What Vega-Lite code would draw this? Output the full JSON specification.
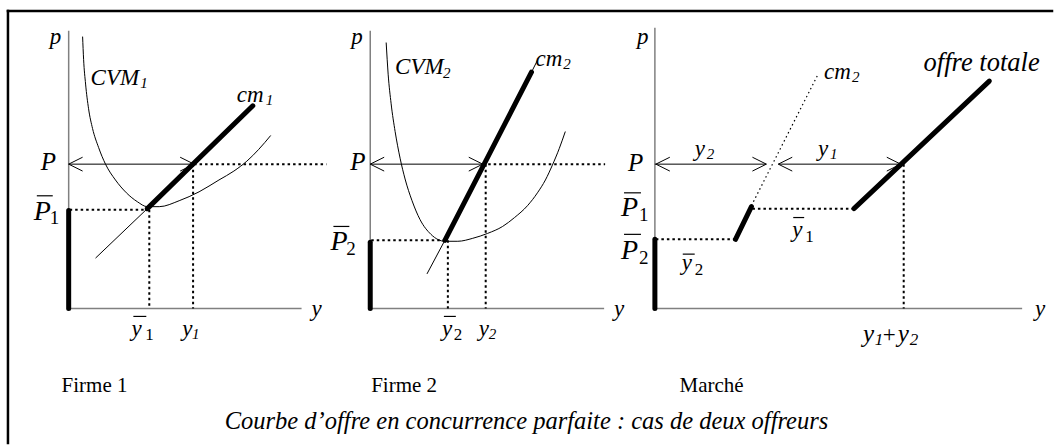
{
  "$schema": "https://vega.github.io/schema/vega-lite/v6.json",
  "width": 1057,
  "height": 448,
  "padding": 0,
  "autosize": {"type": "fit", "contains": "padding"},
  "background": "white",
  "config": {"view": {"stroke": null}},
  "datasets": {
    "lines": [
      {"id": "f1", "k": "frame", "i": 0, "x": 8, "y": 11}, {"id": "f1", "k": "frame", "i": 1, "x": 1057, "y": 11},
      {"id": "f2", "k": "frame", "i": 0, "x": 8, "y": 11}, {"id": "f2", "k": "frame", "i": 1, "x": 8, "y": 448},

      {"id": "a1v", "k": "axis", "i": 0, "x": 69, "y": 31}, {"id": "a1v", "k": "axis", "i": 1, "x": 69, "y": 312},
      {"id": "a1h", "k": "axis", "i": 0, "x": 69, "y": 312}, {"id": "a1h", "k": "axis", "i": 1, "x": 303, "y": 312},
      {"id": "a2v", "k": "axis", "i": 0, "x": 372, "y": 31}, {"id": "a2v", "k": "axis", "i": 1, "x": 372, "y": 312},
      {"id": "a2h", "k": "axis", "i": 0, "x": 372, "y": 312}, {"id": "a2h", "k": "axis", "i": 1, "x": 607, "y": 312},
      {"id": "a3v", "k": "axis", "i": 0, "x": 658, "y": 28}, {"id": "a3v", "k": "axis", "i": 1, "x": 658, "y": 312},
      {"id": "a3h", "k": "axis", "i": 0, "x": 658, "y": 312}, {"id": "a3h", "k": "axis", "i": 1, "x": 1027, "y": 312},

      {"id": "cvm1", "k": "curve", "i": 0, "x": 83, "y": 37},
      {"id": "cvm1", "k": "curve", "i": 1, "x": 84, "y": 60},
      {"id": "cvm1", "k": "curve", "i": 2, "x": 86, "y": 85},
      {"id": "cvm1", "k": "curve", "i": 3, "x": 89, "y": 110},
      {"id": "cvm1", "k": "curve", "i": 4, "x": 93, "y": 130},
      {"id": "cvm1", "k": "curve", "i": 5, "x": 99, "y": 149},
      {"id": "cvm1", "k": "curve", "i": 6, "x": 106, "y": 166},
      {"id": "cvm1", "k": "curve", "i": 7, "x": 116, "y": 182},
      {"id": "cvm1", "k": "curve", "i": 8, "x": 127, "y": 195},
      {"id": "cvm1", "k": "curve", "i": 9, "x": 138, "y": 204},
      {"id": "cvm1", "k": "curve", "i": 10, "x": 148, "y": 209},
      {"id": "cvm1", "k": "curve", "i": 11, "x": 160, "y": 209},
      {"id": "cvm1", "k": "curve", "i": 12, "x": 180, "y": 203},
      {"id": "cvm1", "k": "curve", "i": 13, "x": 200, "y": 194},
      {"id": "cvm1", "k": "curve", "i": 14, "x": 220, "y": 182},
      {"id": "cvm1", "k": "curve", "i": 15, "x": 235, "y": 173},
      {"id": "cvm1", "k": "curve", "i": 16, "x": 248, "y": 163},
      {"id": "cvm1", "k": "curve", "i": 17, "x": 260, "y": 151},
      {"id": "cvm1", "k": "curve", "i": 18, "x": 272, "y": 137},

      {"id": "cvm2", "k": "curve", "i": 0, "x": 388, "y": 43},
      {"id": "cvm2", "k": "curve", "i": 1, "x": 390, "y": 75},
      {"id": "cvm2", "k": "curve", "i": 2, "x": 393, "y": 105},
      {"id": "cvm2", "k": "curve", "i": 3, "x": 397, "y": 133},
      {"id": "cvm2", "k": "curve", "i": 4, "x": 402, "y": 160},
      {"id": "cvm2", "k": "curve", "i": 5, "x": 407, "y": 181},
      {"id": "cvm2", "k": "curve", "i": 6, "x": 414, "y": 203},
      {"id": "cvm2", "k": "curve", "i": 7, "x": 422, "y": 222},
      {"id": "cvm2", "k": "curve", "i": 8, "x": 433, "y": 237},
      {"id": "cvm2", "k": "curve", "i": 9, "x": 447, "y": 244},
      {"id": "cvm2", "k": "curve", "i": 10, "x": 460, "y": 244},
      {"id": "cvm2", "k": "curve", "i": 11, "x": 475, "y": 241},
      {"id": "cvm2", "k": "curve", "i": 12, "x": 490, "y": 236},
      {"id": "cvm2", "k": "curve", "i": 13, "x": 505, "y": 229},
      {"id": "cvm2", "k": "curve", "i": 14, "x": 517, "y": 220},
      {"id": "cvm2", "k": "curve", "i": 15, "x": 530, "y": 208},
      {"id": "cvm2", "k": "curve", "i": 16, "x": 540, "y": 195},
      {"id": "cvm2", "k": "curve", "i": 17, "x": 548, "y": 182},
      {"id": "cvm2", "k": "curve", "i": 18, "x": 555, "y": 167},
      {"id": "cvm2", "k": "curve", "i": 19, "x": 562, "y": 150},
      {"id": "cvm2", "k": "curve", "i": 20, "x": 568, "y": 133},

      {"id": "c1", "k": "thin", "i": 0, "x": 96, "y": 261}, {"id": "c1", "k": "thin", "i": 1, "x": 148, "y": 211},
      {"id": "c2", "k": "thin", "i": 0, "x": 429, "y": 277}, {"id": "c2", "k": "thin", "i": 1, "x": 447, "y": 243},
      {"id": "c2b", "k": "thin", "i": 0, "x": 534, "y": 73}, {"id": "c2b", "k": "thin", "i": 1, "x": 540, "y": 61},

      {"id": "s1", "k": "thin", "i": 0, "x": 69, "y": 166}, {"id": "s1", "k": "thin", "i": 1, "x": 195, "y": 166},
      {"id": "s2", "k": "thin", "i": 0, "x": 372, "y": 166}, {"id": "s2", "k": "thin", "i": 1, "x": 485, "y": 166},
      {"id": "s3", "k": "thin", "i": 0, "x": 658, "y": 166}, {"id": "s3", "k": "thin", "i": 1, "x": 770, "y": 166},
      {"id": "s4", "k": "thin", "i": 0, "x": 782, "y": 166}, {"id": "s4", "k": "thin", "i": 1, "x": 905, "y": 166},

      {"id": "h1L", "k": "thin", "i": 0, "x": 83, "y": 159}, {"id": "h1L", "k": "thin", "i": 1, "x": 69, "y": 166}, {"id": "h1L", "k": "thin", "i": 2, "x": 83, "y": 173},
      {"id": "h1R", "k": "thin", "i": 0, "x": 181, "y": 159}, {"id": "h1R", "k": "thin", "i": 1, "x": 195, "y": 166}, {"id": "h1R", "k": "thin", "i": 2, "x": 181, "y": 173},
      {"id": "h2L", "k": "thin", "i": 0, "x": 386, "y": 159}, {"id": "h2L", "k": "thin", "i": 1, "x": 372, "y": 166}, {"id": "h2L", "k": "thin", "i": 2, "x": 386, "y": 173},
      {"id": "h2R", "k": "thin", "i": 0, "x": 471, "y": 159}, {"id": "h2R", "k": "thin", "i": 1, "x": 485, "y": 166}, {"id": "h2R", "k": "thin", "i": 2, "x": 471, "y": 173},
      {"id": "h3L", "k": "thin", "i": 0, "x": 673, "y": 159}, {"id": "h3L", "k": "thin", "i": 1, "x": 659, "y": 166}, {"id": "h3L", "k": "thin", "i": 2, "x": 673, "y": 173},
      {"id": "h3R", "k": "thin", "i": 0, "x": 756, "y": 159}, {"id": "h3R", "k": "thin", "i": 1, "x": 770, "y": 166}, {"id": "h3R", "k": "thin", "i": 2, "x": 756, "y": 173},
      {"id": "h4L", "k": "thin", "i": 0, "x": 796, "y": 159}, {"id": "h4L", "k": "thin", "i": 1, "x": 782, "y": 166}, {"id": "h4L", "k": "thin", "i": 2, "x": 796, "y": 173},
      {"id": "h4R", "k": "thin", "i": 0, "x": 891, "y": 159}, {"id": "h4R", "k": "thin", "i": 1, "x": 905, "y": 166}, {"id": "h4R", "k": "thin", "i": 2, "x": 891, "y": 173},

      {"id": "b1", "k": "bar", "i": 0, "x": 37, "y": 198}, {"id": "b1", "k": "bar", "i": 1, "x": 53, "y": 198},
      {"id": "b2", "k": "bar", "i": 0, "x": 134, "y": 320}, {"id": "b2", "k": "bar", "i": 1, "x": 147, "y": 320},
      {"id": "b3", "k": "bar", "i": 0, "x": 335, "y": 229}, {"id": "b3", "k": "bar", "i": 1, "x": 351, "y": 229},
      {"id": "b4", "k": "bar", "i": 0, "x": 446, "y": 320}, {"id": "b4", "k": "bar", "i": 1, "x": 458, "y": 320},
      {"id": "b5", "k": "bar", "i": 0, "x": 627, "y": 195}, {"id": "b5", "k": "bar", "i": 1, "x": 644, "y": 195},
      {"id": "b6", "k": "bar", "i": 0, "x": 627, "y": 237}, {"id": "b6", "k": "bar", "i": 1, "x": 644, "y": 237},
      {"id": "b7", "k": "bar", "i": 0, "x": 797, "y": 220}, {"id": "b7", "k": "bar", "i": 1, "x": 808, "y": 220},
      {"id": "b8", "k": "bar", "i": 0, "x": 686, "y": 257}, {"id": "b8", "k": "bar", "i": 1, "x": 698, "y": 257},

      {"id": "d1", "k": "dot", "i": 0, "x": 195, "y": 166}, {"id": "d1", "k": "dot", "i": 1, "x": 328, "y": 166},
      {"id": "d2", "k": "dot", "i": 0, "x": 70, "y": 212}, {"id": "d2", "k": "dot", "i": 1, "x": 148, "y": 212},
      {"id": "d3", "k": "dot", "i": 0, "x": 150, "y": 212}, {"id": "d3", "k": "dot", "i": 1, "x": 150, "y": 312},
      {"id": "d4", "k": "dot", "i": 0, "x": 194, "y": 166}, {"id": "d4", "k": "dot", "i": 1, "x": 194, "y": 312},
      {"id": "d5", "k": "dot", "i": 0, "x": 485, "y": 166}, {"id": "d5", "k": "dot", "i": 1, "x": 608, "y": 166},
      {"id": "d6", "k": "dot", "i": 0, "x": 373, "y": 243}, {"id": "d6", "k": "dot", "i": 1, "x": 447, "y": 243},
      {"id": "d7", "k": "dot", "i": 0, "x": 450, "y": 243}, {"id": "d7", "k": "dot", "i": 1, "x": 450, "y": 312},
      {"id": "d8", "k": "dot", "i": 0, "x": 488, "y": 166}, {"id": "d8", "k": "dot", "i": 1, "x": 488, "y": 312},
      {"id": "d9", "k": "dot", "i": 0, "x": 659, "y": 242}, {"id": "d9", "k": "dot", "i": 1, "x": 739, "y": 242},
      {"id": "d10", "k": "dot", "i": 0, "x": 756, "y": 211}, {"id": "d10", "k": "dot", "i": 1, "x": 858, "y": 211},
      {"id": "d11", "k": "dot", "i": 0, "x": 908, "y": 166}, {"id": "d11", "k": "dot", "i": 1, "x": 908, "y": 312},

      {"id": "m1", "k": "dotcm", "i": 0, "x": 755, "y": 208}, {"id": "m1", "k": "dotcm", "i": 1, "x": 822, "y": 75},

      {"id": "t1", "k": "thick", "i": 0, "x": 69, "y": 213}, {"id": "t1", "k": "thick", "i": 1, "x": 69, "y": 312},
      {"id": "t2", "k": "thick", "i": 0, "x": 148, "y": 211}, {"id": "t2", "k": "thick", "i": 1, "x": 254, "y": 107},
      {"id": "t3", "k": "thick", "i": 0, "x": 372, "y": 245}, {"id": "t3", "k": "thick", "i": 1, "x": 372, "y": 312},
      {"id": "t4", "k": "thick", "i": 0, "x": 447, "y": 243}, {"id": "t4", "k": "thick", "i": 1, "x": 534, "y": 73},
      {"id": "t5", "k": "thick", "i": 0, "x": 658, "y": 242}, {"id": "t5", "k": "thick", "i": 1, "x": 658, "y": 312},
      {"id": "t6", "k": "thick", "i": 0, "x": 739, "y": 242}, {"id": "t6", "k": "thick", "i": 1, "x": 755, "y": 209},
      {"id": "t7", "k": "thick", "i": 0, "x": 858, "y": 211}, {"id": "t7", "k": "thick", "i": 1, "x": 994, "y": 82}
    ],
    "texts": [
      {"t": "p", "k": "lab", "x": 50, "y": 45},
      {"t": "y", "k": "lab", "x": 313, "y": 320},
      {"t": "CVM", "k": "lab", "x": 91, "y": 86},
      {"t": "1", "k": "sub", "x": 141, "y": 89},
      {"t": "cm", "k": "lab", "x": 238, "y": 103},
      {"t": "1", "k": "sub", "x": 267, "y": 106},
      {"t": "P", "k": "lab2", "x": 41, "y": 172},
      {"t": "P", "k": "big", "x": 34, "y": 222},
      {"t": "1", "k": "subu", "x": 50, "y": 227},
      {"t": "y", "k": "lab", "x": 132, "y": 340},
      {"t": "1", "k": "subnum", "x": 146, "y": 344},
      {"t": "y", "k": "lab", "x": 183, "y": 340},
      {"t": "1", "k": "sub", "x": 193, "y": 343},

      {"t": "p", "k": "lab", "x": 353, "y": 45},
      {"t": "y", "k": "lab", "x": 617, "y": 320},
      {"t": "CVM", "k": "lab", "x": 397, "y": 75},
      {"t": "2", "k": "sub", "x": 445, "y": 79},
      {"t": "cm", "k": "lab", "x": 538, "y": 67},
      {"t": "2", "k": "sub", "x": 566, "y": 70},
      {"t": "P", "k": "lab2", "x": 352, "y": 172},
      {"t": "P", "k": "big", "x": 332, "y": 253},
      {"t": "2", "k": "subu", "x": 348, "y": 258},
      {"t": "y", "k": "lab", "x": 444, "y": 340},
      {"t": "2", "k": "subnum", "x": 456, "y": 344},
      {"t": "y", "k": "lab", "x": 481, "y": 340},
      {"t": "2", "k": "sub", "x": 491, "y": 343},

      {"t": "p", "k": "lab", "x": 640, "y": 45},
      {"t": "y", "k": "lab", "x": 1040, "y": 320},
      {"t": "P", "k": "lab2", "x": 631, "y": 173},
      {"t": "P", "k": "big", "x": 624, "y": 218},
      {"t": "1", "k": "subu", "x": 642, "y": 223},
      {"t": "P", "k": "big", "x": 624, "y": 262},
      {"t": "2", "k": "subu", "x": 642, "y": 267},
      {"t": "y", "k": "lab", "x": 698, "y": 158},
      {"t": "2", "k": "sub", "x": 710, "y": 161},
      {"t": "y", "k": "lab", "x": 822, "y": 158},
      {"t": "1", "k": "sub", "x": 834, "y": 161},
      {"t": "cm", "k": "lab", "x": 828, "y": 80},
      {"t": "2", "k": "sub", "x": 856, "y": 83},
      {"t": "offre totale", "k": "big2", "x": 928, "y": 72},
      {"t": "y", "k": "lab", "x": 796, "y": 240},
      {"t": "1", "k": "subnum", "x": 809, "y": 245},
      {"t": "y", "k": "lab", "x": 685, "y": 273},
      {"t": "2", "k": "subnum", "x": 698, "y": 278},
      {"t": "y", "k": "lab2", "x": 867, "y": 346},
      {"t": "1", "k": "sub2", "x": 879, "y": 349},
      {"t": "+", "k": "plus", "x": 887, "y": 346},
      {"t": "y", "k": "lab2", "x": 902, "y": 346},
      {"t": "2", "k": "sub2", "x": 914, "y": 349},

      {"t": "Firme 1", "k": "roman", "x": 95, "y": 396},
      {"t": "Firme 2", "k": "roman", "x": 406, "y": 396},
      {"t": "Marché", "k": "roman", "x": 715, "y": 396},
      {"t": "Courbe d’offre en concurrence parfaite : cas de deux offreurs", "k": "cap", "x": 529, "y": 434}
    ]
  },
  "encoding": {
    "x": {"field": "x", "type": "quantitative", "scale": {"domain": [0, 1057], "nice": false, "zero": false}, "axis": null},
    "y": {"field": "y", "type": "quantitative", "scale": {"domain": [0, 448], "nice": false, "zero": false, "reverse": true}, "axis": null}
  },
  "layer": [
    {"data": {"name": "lines"}, "transform": [{"filter": "datum.k == 'frame'"}],
     "mark": {"type": "line", "color": "black", "strokeWidth": 2.5, "strokeCap": "square"},
     "encoding": {"detail": {"field": "id"}, "order": {"field": "i"}}},
    {"data": {"name": "lines"}, "transform": [{"filter": "datum.k == 'axis'"}],
     "mark": {"type": "line", "color": "#808080", "strokeWidth": 1.5},
     "encoding": {"detail": {"field": "id"}, "order": {"field": "i"}}},
    {"data": {"name": "lines"}, "transform": [{"filter": "datum.k == 'curve'"}],
     "mark": {"type": "line", "color": "black", "strokeWidth": 1, "interpolate": "monotone"},
     "encoding": {"detail": {"field": "id"}, "order": {"field": "i"}}},
    {"data": {"name": "lines"}, "transform": [{"filter": "datum.k == 'thin'"}],
     "mark": {"type": "line", "color": "black", "strokeWidth": 1},
     "encoding": {"detail": {"field": "id"}, "order": {"field": "i"}}},
    {"data": {"name": "lines"}, "transform": [{"filter": "datum.k == 'bar'"}],
     "mark": {"type": "line", "color": "black", "strokeWidth": 1.2},
     "encoding": {"detail": {"field": "id"}, "order": {"field": "i"}}},
    {"data": {"name": "lines"}, "transform": [{"filter": "datum.k == 'dot'"}],
     "mark": {"type": "line", "color": "black", "strokeWidth": 2, "strokeDash": [2.5, 3]},
     "encoding": {"detail": {"field": "id"}, "order": {"field": "i"}}},
    {"data": {"name": "lines"}, "transform": [{"filter": "datum.k == 'dotcm'"}],
     "mark": {"type": "line", "color": "black", "strokeWidth": 1.2, "strokeDash": [1.5, 3]},
     "encoding": {"detail": {"field": "id"}, "order": {"field": "i"}}},
    {"data": {"name": "lines"}, "transform": [{"filter": "datum.k == 'thick'"}],
     "mark": {"type": "line", "color": "black", "strokeWidth": 5, "strokeCap": "round"},
     "encoding": {"detail": {"field": "id"}, "order": {"field": "i"}}},

    {"data": {"name": "texts"}, "transform": [{"filter": "datum.k == 'lab'"}],
     "mark": {"type": "text", "font": "Liberation Serif", "fontStyle": "italic", "fontSize": 23, "align": "left", "baseline": "alphabetic", "color": "black"},
     "encoding": {"text": {"field": "t"}}},
    {"data": {"name": "texts"}, "transform": [{"filter": "datum.k == 'lab2'"}],
     "mark": {"type": "text", "font": "Liberation Serif", "fontStyle": "italic", "fontSize": 25, "align": "left", "baseline": "alphabetic", "color": "black"},
     "encoding": {"text": {"field": "t"}}},
    {"data": {"name": "texts"}, "transform": [{"filter": "datum.k == 'big2'"}],
     "mark": {"type": "text", "font": "Liberation Serif", "fontStyle": "italic", "fontSize": 26.5, "align": "left", "baseline": "alphabetic", "color": "black"},
     "encoding": {"text": {"field": "t"}}},
    {"data": {"name": "texts"}, "transform": [{"filter": "datum.k == 'sub'"}],
     "mark": {"type": "text", "font": "Liberation Serif", "fontStyle": "italic", "fontSize": 15, "align": "left", "baseline": "alphabetic", "color": "black"},
     "encoding": {"text": {"field": "t"}}},
    {"data": {"name": "texts"}, "transform": [{"filter": "datum.k == 'sub2'"}],
     "mark": {"type": "text", "font": "Liberation Serif", "fontStyle": "italic", "fontSize": 17, "align": "left", "baseline": "alphabetic", "color": "black"},
     "encoding": {"text": {"field": "t"}}},
    {"data": {"name": "texts"}, "transform": [{"filter": "datum.k == 'big'"}],
     "mark": {"type": "text", "font": "Liberation Serif", "fontStyle": "italic", "fontSize": 28, "align": "left", "baseline": "alphabetic", "color": "black"},
     "encoding": {"text": {"field": "t"}}},
    {"data": {"name": "texts"}, "transform": [{"filter": "datum.k == 'subu'"}],
     "mark": {"type": "text", "font": "Liberation Serif", "fontSize": 19, "align": "left", "baseline": "alphabetic", "color": "black"},
     "encoding": {"text": {"field": "t"}}},
    {"data": {"name": "texts"}, "transform": [{"filter": "datum.k == 'subnum'"}],
     "mark": {"type": "text", "font": "Liberation Serif", "fontSize": 17, "align": "left", "baseline": "alphabetic", "color": "black"},
     "encoding": {"text": {"field": "t"}}},
    {"data": {"name": "texts"}, "transform": [{"filter": "datum.k == 'plus'"}],
     "mark": {"type": "text", "font": "Liberation Serif", "fontSize": 23, "align": "left", "baseline": "alphabetic", "color": "black"},
     "encoding": {"text": {"field": "t"}}},
    {"data": {"name": "texts"}, "transform": [{"filter": "datum.k == 'roman'"}],
     "mark": {"type": "text", "font": "Liberation Serif", "fontSize": 21, "align": "center", "baseline": "alphabetic", "color": "black"},
     "encoding": {"text": {"field": "t"}}},
    {"data": {"name": "texts"}, "transform": [{"filter": "datum.k == 'cap'"}],
     "mark": {"type": "text", "font": "Liberation Serif", "fontStyle": "italic", "fontSize": 24.5, "align": "center", "baseline": "alphabetic", "color": "black"},
     "encoding": {"text": {"field": "t"}}}
  ]
}
